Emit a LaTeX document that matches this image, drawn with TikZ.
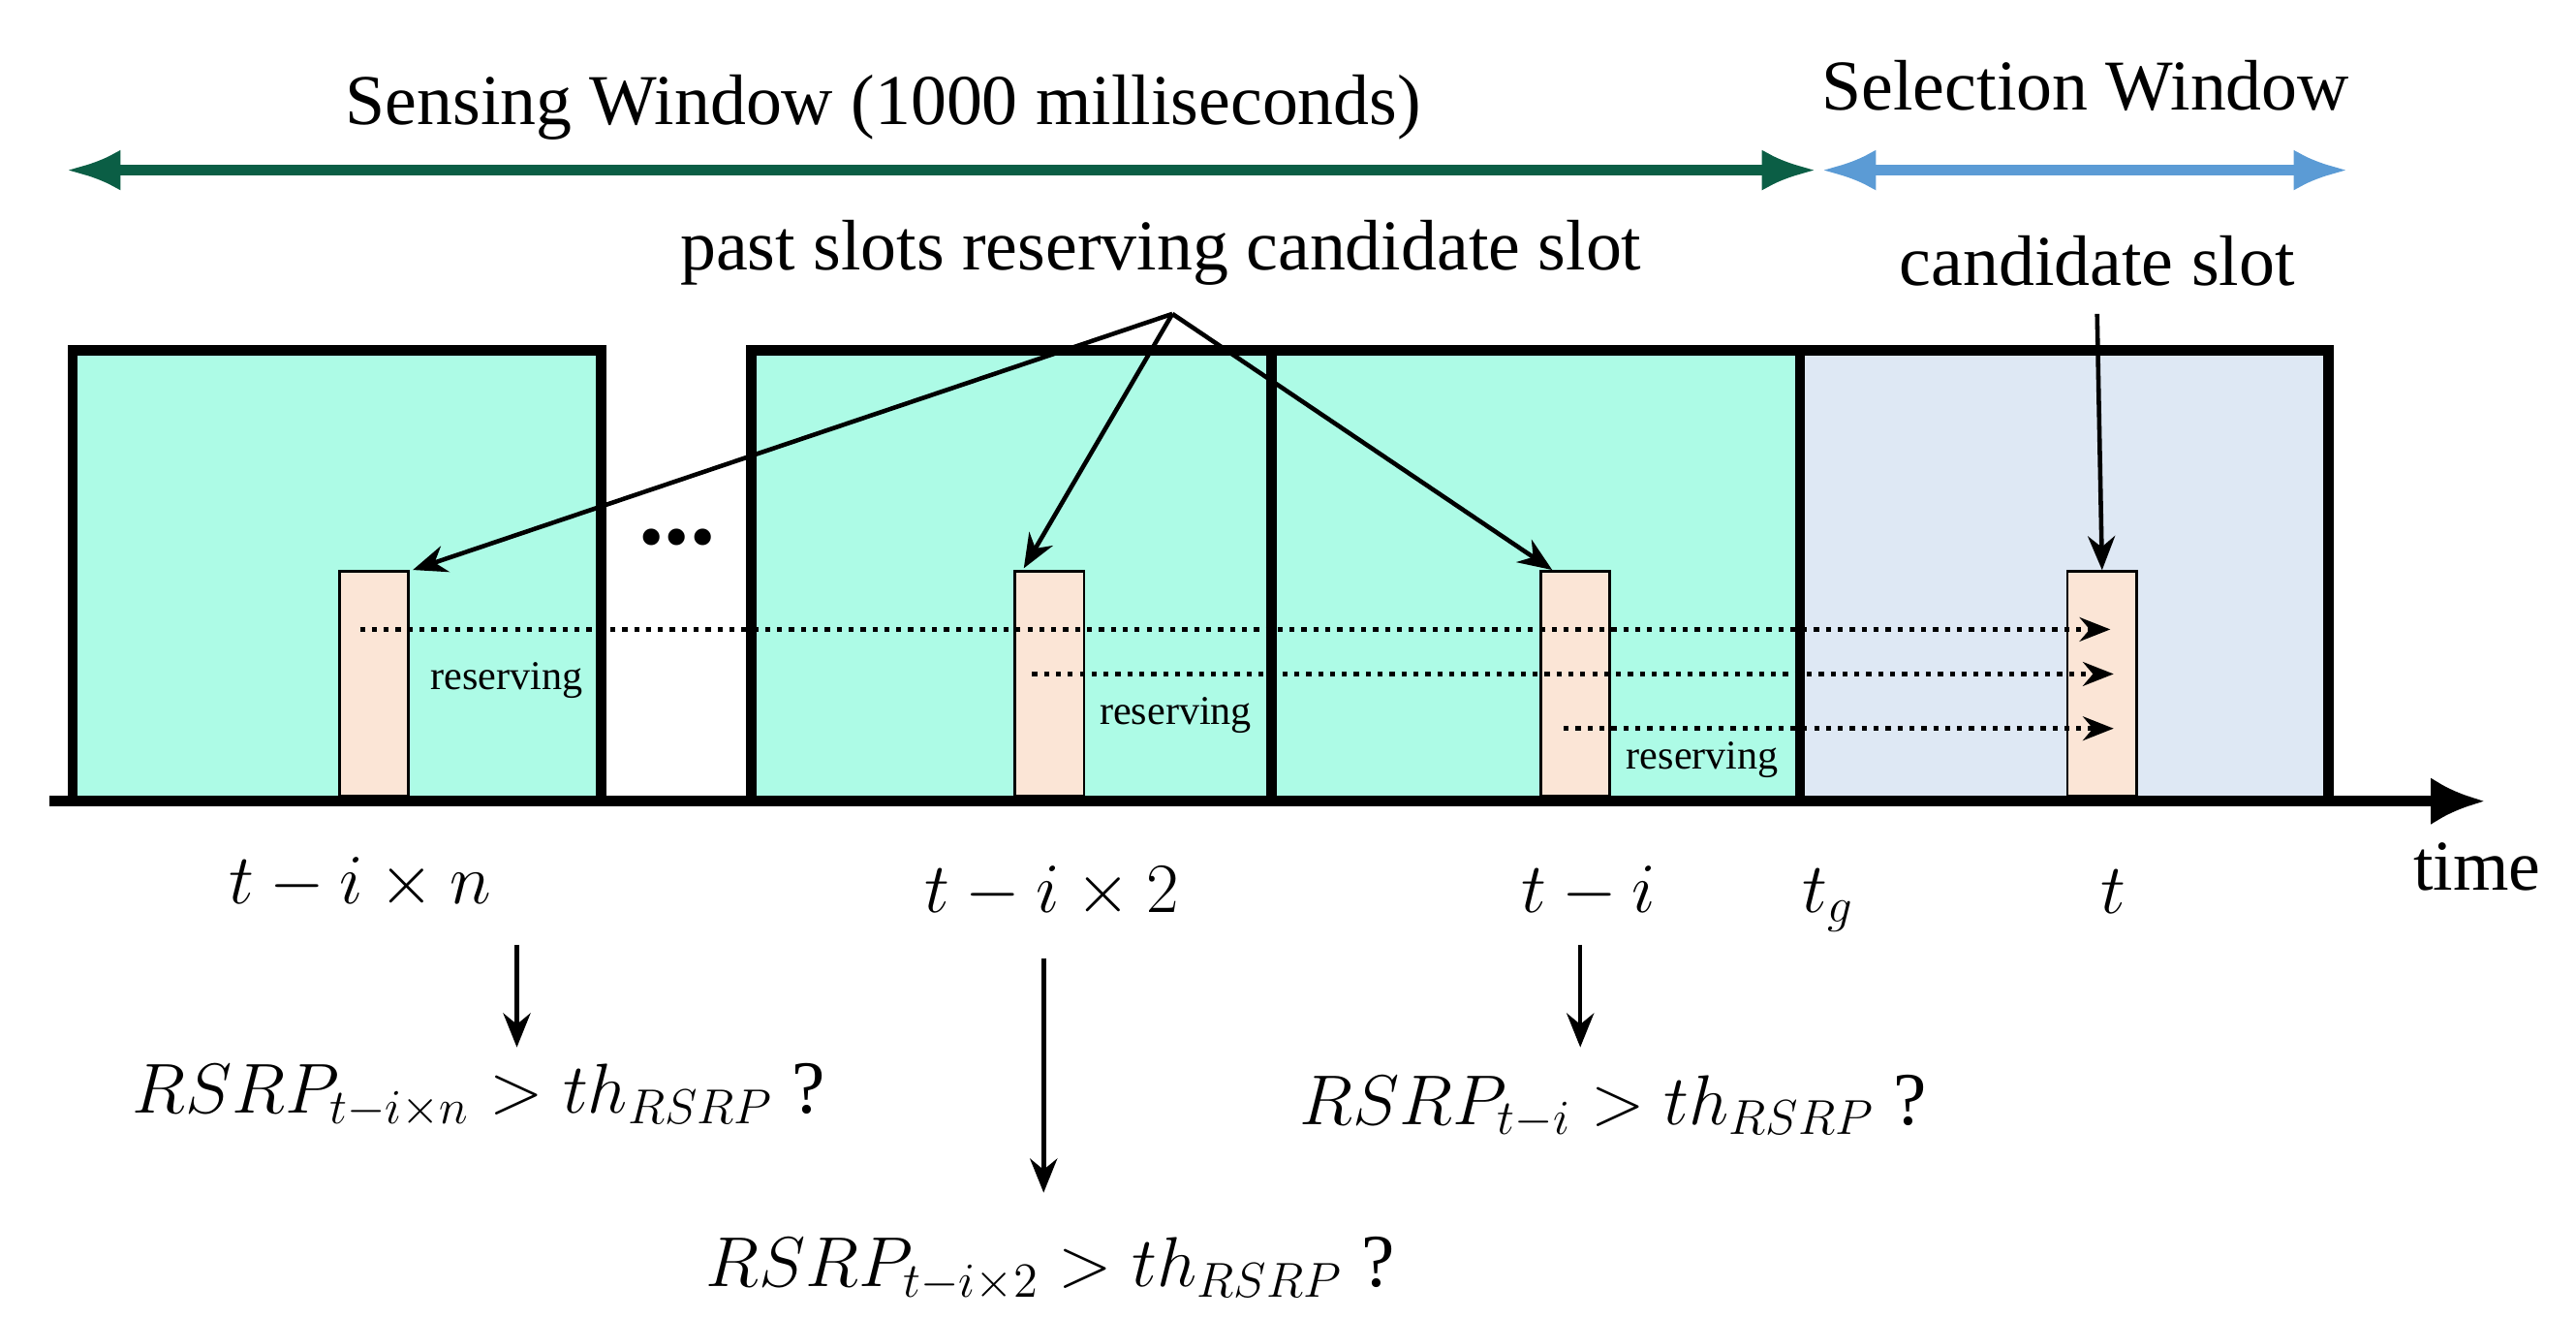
\documentclass[tikz,border=0pt]{standalone}
\usepackage{fontspec}
\setmainfont{Liberation Serif}
\usetikzlibrary{arrows.meta}
\definecolor{dgreen}{HTML}{0B5E45}
\definecolor{lblue}{HTML}{5B9BD5}
\definecolor{teal}{HTML}{ADFBE6}
\definecolor{selb}{HTML}{DEE8F4}
\definecolor{slot}{HTML}{FBE5D6}
\begin{document}
\begin{tikzpicture}[x=0.017045cm,y=-0.017045cm,
  win/.style={draw=black,line width=3pt},
  sl/.style={draw=black,fill=slot,line width=0.8pt},
  arr/.style={-{Stealth[length=10pt,width=8pt]},line width=1.3pt},
  dot/.style={-{Stealth[length=9pt,width=7pt]},line width=1.5pt,dotted},
  big/.style={font=\fontsize{21}{24}\selectfont},
  res/.style={font=\fontsize{12}{14}\selectfont,inner sep=1pt},
  mth/.style={font=\fontsize{22}{26}\selectfont}]
\useasboundingbox (0,0) rectangle (1560,798);
\draw[win,fill=teal] (44,212) rectangle (364,485);
\draw[win,fill=teal] (455,212) rectangle (770,485);
\draw[win,fill=teal] (770,212) rectangle (1090,485);
\draw[win,fill=selb] (1090,212) rectangle (1410,485);
\draw[line width=3pt,-{Latex[length=16pt,width=14pt]}] (30,485) -- (1505,485);
\node[big] at (1500,525) {time};
\node[font=\fontsize{30}{30}\selectfont\bfseries] at (410,325) {...};
\draw[{Latex[length=16pt,width=12pt]}-{Latex[length=16pt,width=12pt]},draw=dgreen,fill=dgreen,line width=3pt] (40,103) -- (1100,103);
\draw[{Latex[length=16pt,width=12pt]}-{Latex[length=16pt,width=12pt]},draw=lblue,fill=lblue,line width=3pt] (1103,103) -- (1422,103);
\node[big] at (535,65) {Sensing  Window (1000 milliseconds)};
\node[big] at (1263,52) {Selection  Window};
\node (s1) [sl,minimum width=0.716cm,minimum height=2.32cm,inner sep=0] at (226.5,414) {};
\node (s2) [sl,minimum width=0.716cm,minimum height=2.32cm,inner sep=0] at (635.5,414) {};
\node (s3) [sl,minimum width=0.716cm,minimum height=2.32cm,inner sep=0] at (954,414) {};
\node (s4) [sl,minimum width=0.716cm,minimum height=2.32cm,inner sep=0] at (1273,414) {};
\draw[dot] (218,381) -- (1278,381);
\draw[dot] (625,408) -- (1280,408);
\draw[dot] (947,441) -- (1280,441);
\node[res] at (307,412) {reserving};
\node[res] at (712,433) {reserving};
\node[res] at (1031,460) {reserving};
\node[big] (ps) at (703,153) {past slots reserving candidate slot};
\coordinate (ap) at (710,190);
\draw[arr] (ap) -- (250,345);
\draw[arr] (ap) -- (620,344);
\draw[arr] (ap) -- (940,345);
\node[big] (cs) at (1270,158) {candidate slot};
\draw[arr] (1270,190) -- (s4.north);
\node[mth] at (218,535) {$t-i\times n$};
\node[mth] at (637,540) {$t-i\times 2$};
\node[mth] at (962,540) {$t-i$};
\node[mth] at (1107,545) {$t_g$};
\node[mth] at (1280,540) {$t$};
\draw[arr] (313,572) -- (313,634);
\draw[arr] (632,580) -- (632,722);
\draw[arr] (957,572) -- (957,634);
\node[mth] at (290,663) {$RSRP_{t-i\times n}>th_{RSRP}$ ?};
\node[mth] at (636,768) {$RSRP_{t-i\times 2}>th_{RSRP}$ ?};
\node[mth] at (977,670) {$RSRP_{t-i}>th_{RSRP}$ ?};
\end{tikzpicture}
\end{document}
